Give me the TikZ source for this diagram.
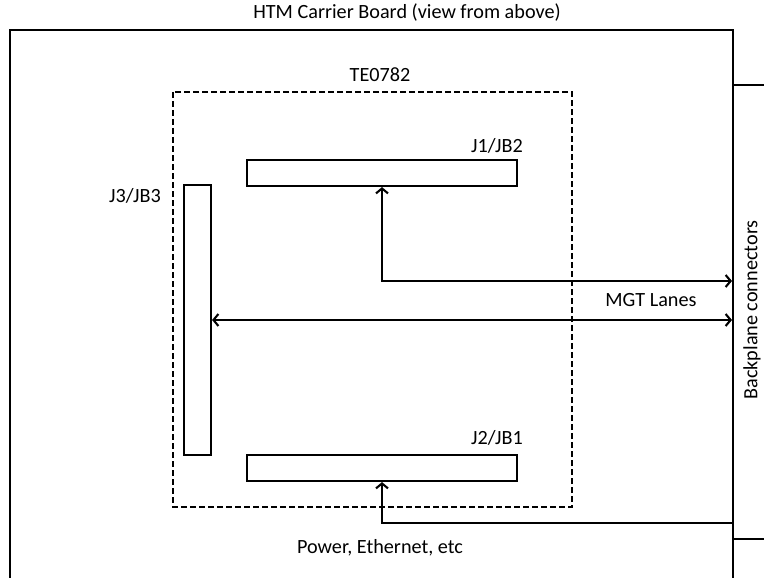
\documentclass[tikz,border=0pt]{standalone}
\usepackage{fontspec}
\setmainfont{Carlito}
\usetikzlibrary{arrows.meta}
\begin{document}
\begin{tikzpicture}[x=1pt,y=-1pt,
  conn/.style={draw,line width=2.1pt,minimum width=270pt,minimum height=26pt,inner sep=0pt},
  vconn/.style={draw,line width=2.1pt,minimum width=27pt,minimum height=270pt,inner sep=0pt},
  lbl/.style={font=\fontsize{20.2}{24}\selectfont,inner sep=0pt},
  link/.style={line width=2.1pt,{Straight Barb[length=5pt,width=12pt]}-{Straight Barb[length=5pt,width=12pt]}},
  linkend/.style={line width=2.1pt,-{Straight Barb[length=5pt,width=12pt]}},
  board/.style={line width=2.1pt}]
\useasboundingbox (0,0) rectangle (764,578);
% carrier board
\draw[board] (10,578) -- (10,30) -- (733,30) -- (733,578);
\node[lbl] (title) at (407,13) {HTM Carrier Board (view from above)};
% backplane connectors
\draw[board] (733,85) -- (764,85);
\draw[board] (733,539) -- (764,539);
\node[lbl,rotate=90] (bp) at (752,310) {Backplane connectors};
% module
\draw[line width=1.8pt,dash pattern=on 6pt off 3pt] (173,92) rectangle (572,507);
\node[lbl] (te) at (380,75) {TE0782};
\node[conn] (J1) at (382,173) {};
\node[conn] (J2) at (382,468) {};
\node[vconn] (J3) at (197.5,320) {};
\node[lbl] (l1) at (497,146) {J1/JB2};
\node[lbl] (l2) at (497,438) {J2/JB1};
\node[lbl] (l3) at (135,196) {J3/JB3};
\coordinate (b1) at (732,281);
\coordinate (b2) at (732,320);
\coordinate (b3) at (733,523);
\draw[link] (J1.south) -- (J1.south |- b1) -- (b1);
\draw[link] (J3.east) -- (b2);
\draw[linkend] (b3) -- (J2.south |- b3) -- (J2.south);
\node[lbl] (mgt) at (651,300) {MGT Lanes};
\node[lbl] (pwr) at (380,548) {Power, Ethernet, etc};
\end{tikzpicture}
\end{document}
